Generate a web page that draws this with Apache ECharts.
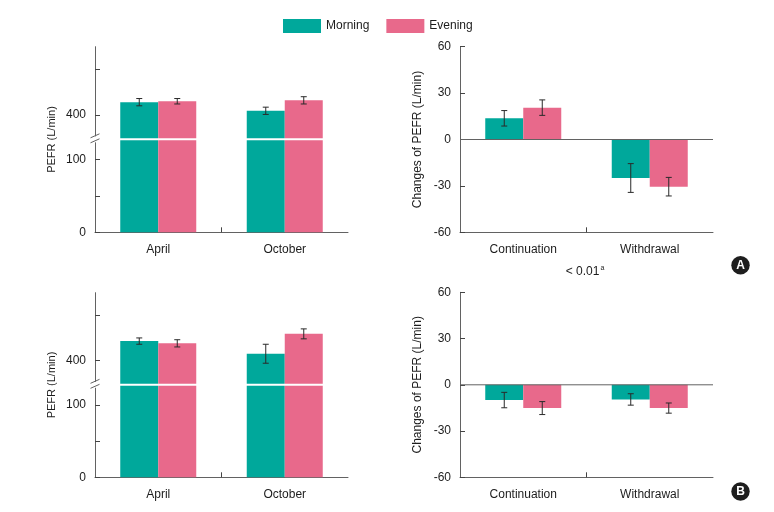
<!DOCTYPE html>
<html><head><meta charset="utf-8">
<script src="https://cdn.jsdelivr.net/npm/echarts@6/dist/echarts.min.js"></script>
<style>html,body{margin:0;padding:0;background:#fff}#c{width:774px;height:512px}</style>
</head><body><div id="c"></div>
<script>
const seriesNames = ['Morning', 'Evening'];
const months = ['April', 'October'];
const groups = ['Continuation', 'Withdrawal'];

// Panel A
const aPefrMorning = [428, 409];
const aPefrMorningErr = [8, 8];
const aPefrEvening = [430, 432];
const aPefrEveningErr = [6, 8];
const aChangeMorning = [13.7, -24.9];
const aChangeMorningErr = [5, 9.3];
const aChangeEvening = [20.6, -30.5];
const aChangeEveningErr = [5, 6];
// Panel B
const bPefrMorning = [443, 415];
const bPefrMorningErr = [7, 21];
const bPefrEvening = [438, 459];
const bPefrEveningErr = [8, 11];
const bChangeMorning = [-9.9, -9.5];
const bChangeMorningErr = [5, 3.7];
const bChangeEvening = [-15.1, -15.1];
const bChangeEveningErr = [4.2, 3.3];

const pefrTicks = [0, 50, 100, 400, 500];
const pefrLabels = [0, 100, 400];
const changeTicks = [-60, -30, 0, 30, 60];
const pValueText = '< 0.01';
const pValueMark = 'a';
const panelLetters = ['A', 'B'];

const COLORS = ['#00A89B', '#E8698B'];
const AXIS_C = '#626262';
const TEXT_C = '#1c1c1c';
const FONT = 'Liberation Sans, Arial, sans-serif';
const BAR_W = 38;

// broken PEFR scale: lower segment 0..LOW_MAX linear, upper segment compressed
const LOW_MAX = 127.5;
const UP_400 = 161;
const UP_K = 0.623;
const AX_MAX = 254.5;
const UP_START = 400 - (UP_400 - LOW_MAX) / UP_K;
function toAxis(v) {
  if (v <= LOW_MAX) return v;
  if (v >= UP_START) return UP_400 + (v - 400) * UP_K;
  return LOW_MAX;
}
function fromAxis(u) {
  return u <= LOW_MAX + 1e-6 ? u : 400 + (u - UP_400) / UP_K;
}

const grids = [
  { left: 95, top: 46.7, width: 253, height: 185.6 },
  { left: 460, top: 46.7, width: 253, height: 185.6 },
  { left: 95, top: 292.7, width: 253, height: 184.6 },
  { left: 460, top: 292.3, width: 253, height: 185 }
];

function xAxisFor(i, cats) {
  return {
    type: 'category', gridIndex: i, data: cats,
    axisLine: { onZero: false, lineStyle: { color: AXIS_C, width: 1 } },
    axisTick: { show: false },
    axisLabel: { color: TEXT_C, fontSize: 12, margin: 11, fontFamily: FONT },
    splitLine: { show: false }
  };
}
function pefrY(i) {
  return {
    type: 'value', gridIndex: i, min: 0, max: AX_MAX,
    name: 'PEFR (L/min)', nameLocation: 'middle', nameRotate: 90, nameGap: 38,
    nameTextStyle: { color: TEXT_C, fontSize: 11, fontFamily: FONT },
    axisLine: { show: true, lineStyle: { color: AXIS_C } },
    axisTick: { show: true, inside: true, length: 5, customValues: pefrTicks.map(toAxis), lineStyle: { color: '#444' } },
    axisLabel: { customValues: pefrLabels.map(toAxis), color: TEXT_C, fontSize: 12, margin: 9, fontFamily: FONT,
      formatter: v => String(Math.round(fromAxis(v))) },
    splitLine: { show: false }
  };
}
function changeY(i) {
  return {
    type: 'value', gridIndex: i, min: -60, max: 60, interval: 30,
    name: 'Changes of PEFR (L/min)', nameLocation: 'middle', nameRotate: 90, nameGap: 36,
    nameTextStyle: { color: TEXT_C, fontSize: 12, fontFamily: FONT },
    axisLine: { show: true, lineStyle: { color: AXIS_C } },
    axisTick: { show: true, inside: true, length: 5, customValues: changeTicks, lineStyle: { color: '#444' } },
    axisLabel: { customValues: changeTicks, color: TEXT_C, fontSize: 12, margin: 9, fontFamily: FONT },
    splitLine: { show: false }
  };
}

function bars(i, mVals, eVals, tf) {
  return [mVals, eVals].map((vals, k) => ({
    type: 'bar', name: seriesNames[k], xAxisIndex: i, yAxisIndex: i,
    barWidth: BAR_W, barGap: '0%', z: 2,
    itemStyle: { color: COLORS[k] },
    data: vals.map(tf)
  }));
}
function errRender(sign) {
  return function (params, api) {
    const x = api.value(0), lo = api.value(1), hi = api.value(2);
    const pLo = api.coord([x, lo]), pHi = api.coord([x, hi]);
    const cx = pLo[0] + sign * BAR_W / 2;
    const cap = 3;
    const st = { stroke: '#2a2a2a', lineWidth: 1 };
    return { type: 'group', children: [
      { type: 'line', shape: { x1: cx, y1: pLo[1], x2: cx, y2: pHi[1] }, style: st },
      { type: 'line', shape: { x1: cx - cap, y1: pLo[1], x2: cx + cap, y2: pLo[1] }, style: st },
      { type: 'line', shape: { x1: cx - cap, y1: pHi[1], x2: cx + cap, y2: pHi[1] }, style: st }
    ] };
  };
}
function errs(i, mVals, mErr, eVals, eErr, tf) {
  return [[mVals, mErr], [eVals, eErr]].map(([vals, er], k) => ({
    type: 'custom', name: seriesNames[k] + ' SE', xAxisIndex: i, yAxisIndex: i, z: 4, silent: true,
    renderItem: errRender(k === 0 ? -1 : 1),
    encode: { x: 0, y: [1, 2] },
    data: vals.map((v, j) => [j, tf(v - er[j]), tf(v + er[j])])
  }));
}
function decor(i, broken) {
  return {
    type: 'custom', xAxisIndex: i, yAxisIndex: i, z: 6, silent: true,
    encode: { x: 0, y: 1 },
    data: [[0, broken ? LOW_MAX : 0]],
    renderItem: function (params, api) {
      const cs = params.coordSys;
      const st = { stroke: AXIS_C, lineWidth: 1 };
      const bottom = cs.y + cs.height;
      const mid = cs.x + cs.width / 2;
      const ch = [
        { type: 'line', shape: { x1: mid, y1: bottom, x2: mid, y2: bottom - 5 }, style: { stroke: '#444', lineWidth: 1 } }
      ];
      if (broken) {
        const yb = api.coord([0, LOW_MAX])[1];
        ch.push({ type: 'line', shape: { x1: cs.x + 1, y1: yb, x2: cs.x + cs.width, y2: yb }, style: { stroke: '#fff', lineWidth: 2 } });
        ch.push({ type: 'rect', shape: { x: cs.x - 2, y: yb - 3, width: 4, height: 6 }, style: { fill: '#fff' } });
        ch.push({ type: 'line', shape: { x1: cs.x - 4.5, y1: yb - 1.5, x2: cs.x + 4.5, y2: yb - 5.5 }, style: st });
        ch.push({ type: 'line', shape: { x1: cs.x - 4.5, y1: yb + 3.5, x2: cs.x + 4.5, y2: yb - 0.5 }, style: st });
      } else {
        const y0 = api.coord([0, 0])[1];
        ch.push({ type: 'line', shape: { x1: cs.x, y1: y0, x2: cs.x + cs.width, y2: y0 }, style: st });
      }
      return { type: 'group', children: ch };
    }
  };
}

const id = v => v;
const series = [].concat(
  bars(0, aPefrMorning, aPefrEvening, toAxis),
  bars(1, aChangeMorning, aChangeEvening, id),
  bars(2, bPefrMorning, bPefrEvening, toAxis),
  bars(3, bChangeMorning, bChangeEvening, id),
  errs(0, aPefrMorning, aPefrMorningErr, aPefrEvening, aPefrEveningErr, toAxis),
  errs(1, aChangeMorning, aChangeMorningErr, aChangeEvening, aChangeEveningErr, id),
  errs(2, bPefrMorning, bPefrMorningErr, bPefrEvening, bPefrEveningErr, toAxis),
  errs(3, bChangeMorning, bChangeMorningErr, bChangeEvening, bChangeEveningErr, id),
  [decor(0, true), decor(1, false), decor(2, true), decor(3, false)]
);

function letter(t, cx, cy) {
  return { type: 'group', children: [
    { type: 'circle', shape: { cx: cx, cy: cy, r: 9.2 }, style: { fill: '#1e1e1e' } },
    { type: 'text', x: cx, y: cy + 0.5, style: { text: t, fill: '#fff', font: 'bold 12px ' + FONT, align: 'center', verticalAlign: 'middle' } }
  ] };
}

const chart = echarts.init(document.getElementById('c'), null, { renderer: 'canvas' });
chart.setOption({
  animation: false,
  backgroundColor: '#fff',
  textStyle: { fontFamily: FONT },
  legend: {
    data: seriesNames, left: 278, top: 14, itemWidth: 38, itemHeight: 14, itemGap: 17,
    icon: 'rect', textStyle: { color: TEXT_C, fontSize: 12, fontFamily: FONT }
  },
  grid: grids,
  xAxis: [xAxisFor(0, months), xAxisFor(1, groups), xAxisFor(2, months), xAxisFor(3, groups)],
  yAxis: [pefrY(0), changeY(1), pefrY(2), changeY(3)],
  series: series,
  graphic: [
    { type: 'text', x: 585, y: 272, style: {
      text: '{t|' + pValueText + '}{s|' + pValueMark + '}',
      align: 'center', verticalAlign: 'middle',
      rich: { t: { fontSize: 12, fill: TEXT_C, fontFamily: FONT, lineHeight: 14 },
              s: { fontSize: 7, fill: TEXT_C, fontFamily: FONT, lineHeight: 14, verticalAlign: 'top', padding: [0, 0, 6, 1] } } } },
    letter(panelLetters[0], 740.5, 265.2),
    letter(panelLetters[1], 740.5, 491.5)
  ]
});
</script></body></html>
